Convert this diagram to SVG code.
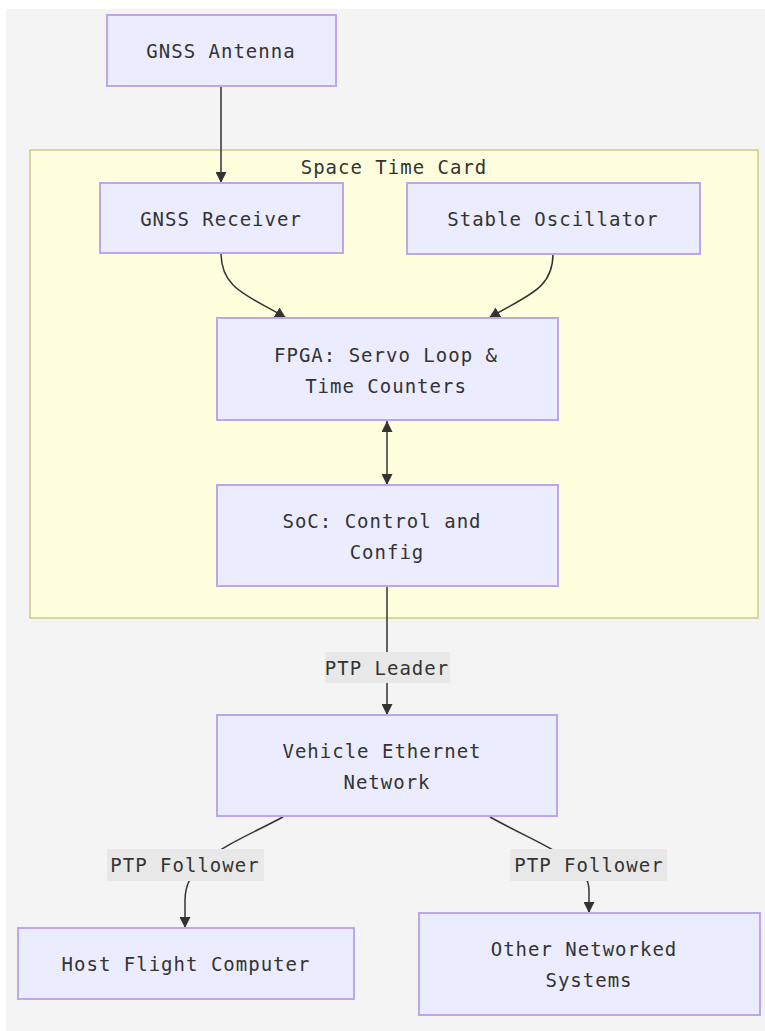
<svg xmlns="http://www.w3.org/2000/svg" width="765" height="1031" viewBox="0 0 765 1031">
<defs>
<marker id="arrow" viewBox="0 0 10 10" refX="10" refY="5" markerUnits="userSpaceOnUse" markerWidth="11" markerHeight="11" orient="auto-start-reverse">
<path d="M0,0 L10,5 L0,10 z" fill="#333333"/>
</marker>
<style>
.node rect{fill:#ECECFF;stroke:#bca6ec;stroke-width:2}
.t{font-family:"DejaVu Sans Mono","Liberation Mono",monospace;font-size:19px;fill:#333333;text-anchor:middle;dominant-baseline:central;letter-spacing:1px}
.edge{fill:none;stroke:#333333;stroke-width:1.5;marker-end:url(#arrow)}
.lbl{fill:#e8e8e8}
</style>
</defs>
<rect x="6" y="9" width="759" height="1022" fill="#f4f4f4"/>
<g id="cluster-space-time-card">
<rect x="30" y="150" width="728" height="468" fill="#ffffde" stroke="#cccc88" stroke-width="1.5"/>
<text class="t" x="394" y="167">Space Time Card</text>
</g>
<g id="connectors">
<path class="edge" d="M221,86 L221,183"/>
<path class="edge" d="M221,253 C221,290 250,296 286,318"/>
<path class="edge" d="M553,254 C553,290 525,296 489,318"/>
<path class="edge" d="M387,421 L387,485" marker-start="url(#arrow)"/>
<path class="edge" d="M387,586 L387,715"/>
<path class="edge" d="M283,817 C230,845 185,860 185,900 L185,928"/>
<path class="edge" d="M490,817 C540,845 589,860 589,890 L589,913"/>
<rect class="lbl" x="325" y="652" width="125" height="31"/>
<text class="t" x="387" y="668">PTP Leader</text>
<rect class="lbl" x="107" y="849" width="157" height="32"/>
<text class="t" x="185" y="865">PTP Follower</text>
<rect class="lbl" x="510" y="849" width="157" height="32"/>
<text class="t" x="589" y="865">PTP Follower</text>
</g>
<g id="gnss-antenna" class="node">
<rect x="107" y="15" width="229" height="71"/>
<text class="t" x="221" y="51">GNSS Antenna</text>
</g>
<g id="gnss-receiver" class="node">
<rect x="100" y="183" width="243" height="70"/>
<text class="t" x="221" y="219">GNSS Receiver</text>
</g>
<g id="stable-oscillator" class="node">
<rect x="407" y="183" width="293" height="71"/>
<text class="t" x="553" y="219">Stable Oscillator</text>
</g>
<g id="fpga" class="node">
<rect x="217" y="318" width="341" height="102"/>
<text class="t" x="386" y="355">FPGA: Servo Loop &amp;</text>
<text class="t" x="386" y="386">Time Counters</text>
</g>
<g id="soc" class="node">
<rect x="217" y="485" width="341" height="101"/>
<text class="t" x="382" y="521">SoC: Control and</text>
<text class="t" x="387" y="552">Config</text>
</g>
<g id="vehicle-ethernet" class="node">
<rect x="217" y="715" width="340" height="101"/>
<text class="t" x="382" y="751">Vehicle Ethernet</text>
<text class="t" x="387" y="782">Network</text>
</g>
<g id="host-flight-computer" class="node">
<rect x="18" y="928" width="336" height="71"/>
<text class="t" x="186" y="964">Host Flight Computer</text>
</g>
<g id="other-networked-systems" class="node">
<rect x="419" y="913" width="341" height="102"/>
<text class="t" x="584" y="949">Other Networked</text>
<text class="t" x="589" y="980">Systems</text>
</g>
</svg>
